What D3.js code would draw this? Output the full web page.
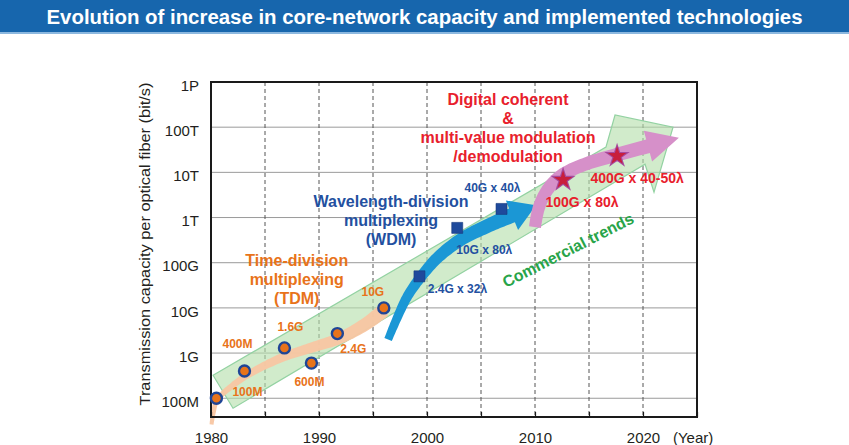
<!DOCTYPE html>
<html>
<head>
<meta charset="utf-8">
<script src="https://cdn.jsdelivr.net/npm/d3@7"></script>
<style>
  body { margin: 0; background: #fff; }
  svg text { font-family: "Liberation Sans", Arial, Helvetica, sans-serif; }
</style>
</head>
<body>
<script>
const w = 849;
const h = 445;

// axes
const yTickValues = [1e8, 1e9, 1e10, 1e11, 1e12, 1e13, 1e14, 1e15];
const yTickLabels = ["100M", "1G", "10G", "100G", "1T", "10T", "100T", "1P"];
const xTickYears = [1980, 1985, 1990, 1995, 2000, 2005, 2010, 2015, 2020, 2025];
const xLabelYears = [1980, 1990, 2000, 2010, 2020];

// Time-division multiplexing (circles)
const tdmYears = [1980.5, 1983.1, 1986.8, 1989.3, 1991.7, 1996.0];
const tdmValues = [1.0e8, 4.0e8, 1.3e9, 6.0e8, 2.7e9, 1.0e10];
const tdmLabels = ["100M", "400M", "1.6G", "600M", "2.4G", "10G"];

// Wavelength-division multiplexing (squares)
const wdmYears = [1999.3, 2002.8, 2006.9];
const wdmValues = [5.0e10, 5.9e11, 1.55e12];
const wdmLabels = ["2.4G x 32λ", "10G x 80λ", "40G x 40λ"];

// Digital coherent (stars)
const dcYears = [2012.6, 2017.6];
const dcValues = [6.8e12, 2.3e13];
const dcLabels = ["100G x 80λ", "400G x 40-50λ"];

// trend shapes, [year, log10(bit/s)]
const commercialBand = [[1980.19, 8.51], [2016.57, 13.56], [2017.41, 14.27], [2022.78, 14.0],
                        [2021.02, 12.56], [2020.19, 13.18], [1982.04, 7.78]];
const tdmTrend = [[1980.05, 7.42], [1980.22, 7.68], [1980.56, 7.96], [1982.04, 8.29], [1983.61, 8.55],
                  [1986.67, 8.91], [1989.17, 9.11], [1991.94, 9.33], [1994.44, 9.66], [1996.02, 9.95]];
const wdmTrend = [[1996.4, 9.3], [1997.22, 9.77], [1998.15, 10.24], [1999.35, 10.66], [2000.93, 11.10],
                  [2003.06, 11.50], [2005.56, 11.81], [2007.87, 12.05]];
const dcTrend = [[2010.0, 11.79], [2010.37, 12.23], [2011.2, 12.63], [2012.5, 12.94], [2014.63, 13.18],
                 [2017.41, 13.38], [2020.46, 13.58]];

const svg = d3.select("body").append("svg")
  .attr("width", w)
  .attr("height", h);

// title bar
svg.append("rect").attr("x", 0).attr("y", 0).attr("width", w).attr("height", 32).attr("fill", "#1766ad");
svg.append("rect").attr("x", 0).attr("y", 32).attr("width", w).attr("height", 2).attr("fill", "#8cb8df");
svg.append("text")
  .attr("x", w / 2).attr("y", 17).attr("dy", "0.35em")
  .attr("text-anchor", "middle")
  .attr("fill", "#fff")
  .attr("font-size", 20).attr("font-weight", "bold")
  .attr("textLength", 756).attr("lengthAdjust", "spacingAndGlyphs")
  .text("Evolution of increase in core-network capacity and implemented technologies");

const x = d3.scaleLinear().domain([1980, 2025]).range([211, 697]);
const y = d3.scaleLog().domain([Math.pow(10, 7.585), 1e15]).range([417, 82]);
const pt = d => [x(d[0]), y(Math.pow(10, d[1]))];

// grid
svg.append("g").selectAll("line")
  .data(yTickValues.slice(0, -1))
  .enter().append("line")
  .attr("x1", x(1980)).attr("x2", x(2025))
  .attr("y1", d => y(d)).attr("y2", d => y(d))
  .attr("stroke", "#9a9a9a").attr("stroke-width", 1);

svg.append("g").selectAll("line")
  .data(xTickYears.slice(1, -1))
  .enter().append("line")
  .attr("x1", d => x(d)).attr("x2", d => x(d))
  .attr("y1", y(1e15)).attr("y2", y.range()[0])
  .attr("stroke", "#555").attr("stroke-width", 1)
  .attr("stroke-dasharray", "4,3");

// tapered ribbon with optional arrow head, built along a smooth curve
let ribbon = (pts, w0, w1, headHalf, headLen) => {
  const tmp = svg.append("path")
    .attr("d", d3.line().curve(d3.curveCatmullRom)(pts))
    .attr("fill", "none");
  const node = tmp.node();
  const L = node.getTotalLength();
  const n = 80;
  const left = [], right = [];
  let lastP, lastT;
  for (let i = 0; i <= n; i++) {
    const s = L * i / n;
    const p = node.getPointAtLength(s);
    const a = node.getPointAtLength(Math.max(0, s - 1));
    const b = node.getPointAtLength(Math.min(L, s + 1));
    let tx = b.x - a.x, ty = b.y - a.y;
    const len = Math.hypot(tx, ty) || 1;
    tx /= len; ty /= len;
    const wd = (w0 + (w1 - w0) * i / n) / 2;
    left.push([p.x - ty * wd, p.y + tx * wd]);
    right.push([p.x + ty * wd, p.y - tx * wd]);
    lastP = p; lastT = [tx, ty];
  }
  tmp.remove();
  let poly = left.slice();
  if (headLen > 0) {
    const nx = -lastT[1], ny = lastT[0];
    poly.push([lastP.x + nx * headHalf, lastP.y + ny * headHalf]);
    poly.push([lastP.x + lastT[0] * headLen, lastP.y + lastT[1] * headLen]);
    poly.push([lastP.x - nx * headHalf, lastP.y - ny * headHalf]);
  }
  poly = poly.concat(right.reverse());
  return "M" + poly.map(p => p[0].toFixed(1) + "," + p[1].toFixed(1)).join("L") + "Z";
};

// commercial trends band
svg.append("path")
  .attr("d", d3.line()(commercialBand.map(pt)) + "Z")
  .attr("fill", "#b4deab").attr("fill-opacity", 0.62)
  .attr("stroke", "#93d2a2").attr("stroke-width", 1.2);

svg.append("path")
  .attr("d", ribbon(tdmTrend.map(pt), 4, 14, 0, 0))
  .attr("fill", "#f8c6a2").attr("fill-opacity", 0.95);

svg.append("path")
  .attr("d", ribbon(wdmTrend.map(pt), 8, 15, 16, 26))
  .attr("fill", "#1b97d5");

svg.append("path")
  .attr("d", ribbon(dcTrend.map(pt), 12, 14, 16, 32))
  .attr("fill", "#d690c9");

// frame
svg.append("rect")
  .attr("x", x(1980)).attr("y", y(1e15))
  .attr("width", x(2025) - x(1980)).attr("height", y.range()[0] - y(1e15))
  .attr("fill", "none").attr("stroke", "#1a1a1a").attr("stroke-width", 2);

// axes
const yAxis = d3.axisLeft(y)
  .tickValues(yTickValues)
  .tickFormat((d, i) => yTickLabels[i])
  .tickSize(0).tickPadding(12);
svg.append("g")
  .attr("transform", "translate(" + x(1980) + ",0)")
  .call(yAxis)
  .call(g => g.select(".domain").remove())
  .selectAll("text")
  .attr("dy", "0.55em")
  .attr("font-size", 15)
  .attr("fill", "#231f20");

const xAxis = d3.axisBottom(x)
  .tickValues(xTickYears)
  .tickFormat(d => xLabelYears.includes(d) ? d : "")
  .tickSize(-5).tickPadding(15);
svg.append("g")
  .attr("transform", "translate(0," + y.range()[0] + ")")
  .call(xAxis)
  .call(g => g.select(".domain").remove())
  .call(g => g.selectAll("line").attr("stroke", "#1a1a1a").attr("stroke-width", 1.2))
  .selectAll("text")
  .attr("font-size", 15)
  .attr("fill", "#231f20");

svg.append("text")
  .attr("x", 673).attr("y", y.range()[0] + 15).attr("dy", "0.71em")
  .attr("font-size", 15).attr("fill", "#231f20")
  .text("(Year)");

svg.append("text")
  .attr("transform", "translate(145,244) rotate(-90)")
  .attr("text-anchor", "middle").attr("dy", "0.35em")
  .attr("font-size", 15).attr("fill", "#231f20")
  .attr("textLength", 323).attr("lengthAdjust", "spacingAndGlyphs")
  .text("Transmission capacity per optical fiber (bit/s)");

// markers
svg.append("g").selectAll("circle")
  .data(tdmYears)
  .enter().append("circle")
  .attr("cx", d => x(d))
  .attr("cy", (d, i) => y(tdmValues[i]))
  .attr("r", 5.5)
  .attr("fill", "#e8731a")
  .attr("stroke", "#1f4596").attr("stroke-width", 2.4);

svg.append("g").selectAll("path")
  .data(wdmYears)
  .enter().append("path")
  .attr("d", d3.symbol(d3.symbolSquare, 121))
  .attr("transform", (d, i) => "translate(" + x(d) + "," + y(wdmValues[i]) + ")")
  .attr("fill", "#1f4a9c").attr("stroke", "#17397c").attr("stroke-width", 0.6);

const stars = svg.append("g").selectAll("g")
  .data(dcYears)
  .enter().append("g")
  .attr("transform", (d, i) => "translate(" + x(d) + "," + y(dcValues[i]) + ")");
stars.append("path").attr("d", d3.symbol(d3.symbolStar, 200)).attr("fill", "#a64a9e");
stars.append("path").attr("d", d3.symbol(d3.symbolStar, 105)).attr("fill", "#c81e3c");

// point labels
const tdmLabelOffsets = [[31, -6], [-7, -27], [6, -21], [-2, 19], [16, 15], [-11, -16]];
const wdmLabelOffsets = [[38, 12], [27, 22], [-9, -21]];
const dcLabelOffsets = [[19, 22], [20, 22]];

let addLabels = (years, values, labels, offsets, color, size) => {
  svg.append("g").selectAll("text")
    .data(labels)
    .enter().append("text")
    .attr("x", (d, i) => x(years[i]) + offsets[i][0])
    .attr("y", (d, i) => y(values[i]) + offsets[i][1])
    .attr("dy", "0.35em")
    .attr("text-anchor", "middle")
    .attr("font-size", size).attr("font-weight", "bold")
    .attr("fill", color)
    .text(d => d);
};
addLabels(tdmYears, tdmValues, tdmLabels, tdmLabelOffsets, "#e8731a", 12);
addLabels(wdmYears, wdmValues, wdmLabels, wdmLabelOffsets, "#2350a0", 12);
addLabels(dcYears, dcValues, dcLabels, dcLabelOffsets, "#e8202c", 14);

// technology captions
let caption = (at, lines, color) => {
  const p = pt(at);
  const t = svg.append("text")
    .attr("text-anchor", "middle")
    .attr("font-size", 16).attr("font-weight", "bold")
    .attr("fill", color);
  lines.forEach((s, i) => {
    t.append("tspan")
      .attr("x", p[0])
      .attr("y", p[1] + (i - (lines.length - 1) / 2) * 19)
      .attr("dy", "0.35em")
      .text(s);
  });
};
caption([1987.94, 10.64], ["Time-division", "multiplexing", "(TDM)"], "#e8731a");
caption([1996.67, 11.945], ["Wavelength-division", "multiplexing", "(WDM)"], "#2350a0");
caption([2007.5, 13.98], ["Digital coherent", "&", "multi-value modulation", "/demodulation"], "#e8202c");

const ct = pt([2013.06, 11.28]);
svg.append("text")
  .attr("transform", "translate(" + ct[0] + "," + ct[1] + ") rotate(-27)")
  .attr("text-anchor", "middle").attr("dy", "0.35em")
  .attr("font-size", 16).attr("font-weight", "bold")
  .attr("fill", "#28a449")
  .text("Commercial trends");
</script>
</body>
</html>
